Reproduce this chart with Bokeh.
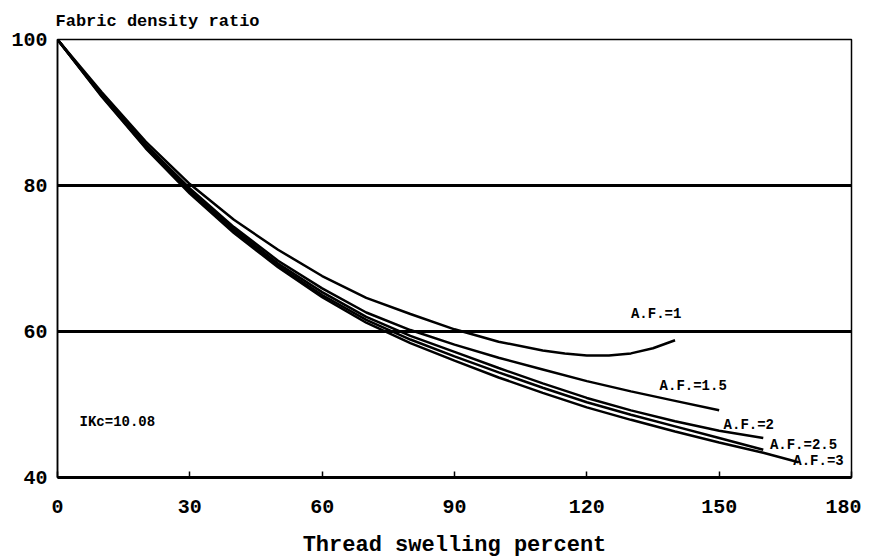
from bokeh.plotting import figure
from bokeh.models import Range1d, FixedTicker, Label
from bokeh.embed import file_html
from bokeh.resources import INLINE

# ---- data ----
x_af1 = [0, 10, 20, 30, 40, 50, 60, 70, 80, 90, 100, 110, 115, 120, 125, 130, 135, 140]
y_af1 = [100, 92.8, 86.0, 80.2, 75.3, 71.2, 67.6, 64.6, 62.4, 60.3, 58.6, 57.4, 57.0, 56.7, 56.7, 57.0, 57.7, 58.8]

x_af15 = [0, 10, 20, 30, 40, 50, 60, 70, 80, 90, 100, 110, 120, 130, 140, 150]
y_af15 = [100, 92.5, 85.6, 79.6, 74.3, 69.7, 65.9, 62.6, 60.2, 58.2, 56.4, 54.8, 53.2, 51.8, 50.5, 49.2]

x_af2 = [0, 10, 20, 30, 40, 50, 60, 70, 80, 90, 100, 110, 120, 130, 140, 150, 160]
y_af2 = [100, 92.4, 85.4, 79.3, 74.0, 69.3, 65.4, 62.0, 59.4, 57.2, 55.0, 52.9, 50.9, 49.2, 47.7, 46.4, 45.4]

x_af25 = [0, 10, 20, 30, 40, 50, 60, 70, 80, 90, 100, 110, 120, 130, 140, 150, 160]
y_af25 = [100, 92.3, 85.2, 79.1, 73.7, 69.0, 65.0, 61.6, 58.9, 56.6, 54.4, 52.3, 50.3, 48.6, 47.0, 45.4, 43.8]

x_af3 = [0, 10, 20, 30, 40, 50, 60, 70, 80, 90, 100, 110, 120, 130, 140, 150, 160, 168]
y_af3 = [100, 92.2, 85.1, 78.9, 73.5, 68.8, 64.7, 61.2, 58.4, 56.0, 53.7, 51.6, 49.6, 47.9, 46.3, 44.8, 43.4, 42.1]

x_ticks = [0, 30, 60, 90, 120, 150, 180]
y_ticks = [40, 60, 80, 100]

curve_labels = ["A.F.=1", "A.F.=1.5", "A.F.=2", "A.F.=2.5", "A.F.=3"]
label_x = [130, 136.5, 151, 161.5, 166.8]
label_y = [62.4, 52.5, 47.2, 44.4, 42.3]

note_text = "IKc=10.08"
note_x, note_y = 5, 47.6

FONT = "Liberation Mono"

p = figure(width=861, height=560, output_backend="svg", toolbar_location=None,
           x_range=Range1d(0, 180), y_range=Range1d(40, 100),
           min_border_left=57, min_border_right=10, min_border_top=39, min_border_bottom=80,
           title="Fabric density ratio")
p.background_fill_color = "white"
p.border_fill_color = "white"
p.outline_line_color = "black"
p.outline_line_width = 1.5

p.title.text_font = FONT
p.title.text_font_size = "17px"
p.title.text_font_style = "bold"
p.title.text_color = "black"
p.title.align = "left"
p.title.offset = -2
p.title.standoff = 18

p.xgrid.visible = False
p.ygrid.ticker = FixedTicker(ticks=y_ticks)
p.ygrid.grid_line_color = "black"
p.ygrid.grid_line_width = 3

p.xaxis.ticker = FixedTicker(ticks=x_ticks)
p.yaxis.ticker = FixedTicker(ticks=y_ticks)
p.xaxis.axis_line_width = 3
p.yaxis.axis_line_width = 1.5
p.xaxis.major_tick_in = 6
p.xaxis.major_tick_out = 0
p.xaxis.major_tick_line_width = 1.5
p.yaxis.major_tick_in = 0
p.yaxis.major_tick_out = 0
p.xaxis.minor_tick_line_color = None
p.yaxis.minor_tick_line_color = None
for ax in (p.xaxis, p.yaxis):
    ax.major_label_text_font = FONT
    ax.major_label_text_font_size = "20px"
    ax.major_label_text_font_style = "bold"
    ax.major_label_text_color = "black"
p.xaxis.major_label_standoff = 22
p.yaxis.major_label_standoff = 10
p.xaxis.axis_label = "Thread swelling percent"
p.xaxis.axis_label_text_font = FONT
p.xaxis.axis_label_text_font_size = "22px"
p.xaxis.axis_label_text_font_style = "bold"
p.xaxis.axis_label_text_color = "black"
p.xaxis.axis_label_standoff = 17

for xs, ys in [(x_af1, y_af1), (x_af15, y_af15), (x_af2, y_af2), (x_af25, y_af25), (x_af3, y_af3)]:
    p.line(xs, ys, line_color="black", line_width=2.5)

for t, lx, ly in zip(curve_labels, label_x, label_y):
    p.add_layout(Label(x=lx, y=ly, text=t, text_font=FONT, text_font_size="14px",
                       text_font_style="bold", text_baseline="middle", text_align="left",
                       text_color="black"))

p.add_layout(Label(x=note_x, y=note_y, text=note_text, text_font=FONT, text_font_size="14px",
                   text_font_style="bold", text_baseline="middle", text_align="left",
                   text_color="black"))

open("out.html", "w").write(file_html(p, INLINE))
